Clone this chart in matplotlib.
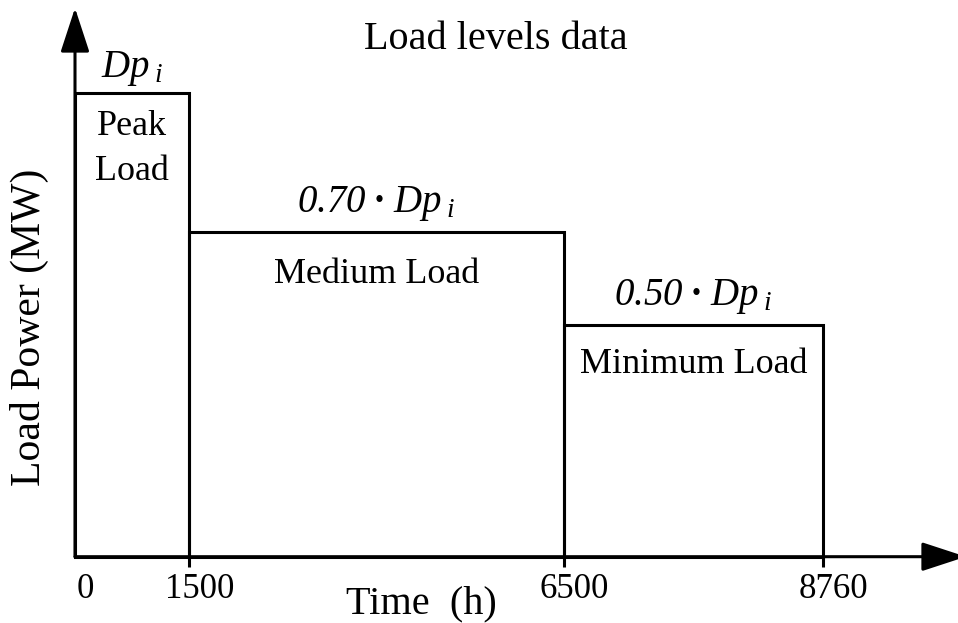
import numpy as np
import matplotlib
matplotlib.use("Agg")
import matplotlib.pyplot as plt
from matplotlib.transforms import ScaledTranslation

plt.rcParams["font.family"] = ["Liberation Serif", "DejaVu Serif"]
plt.rcParams["mathtext.fontset"] = "custom"
# formula labels are set entirely in italics
plt.rcParams["mathtext.rm"] = "Liberation Serif:italic"
plt.rcParams["mathtext.it"] = "Liberation Serif:italic"
plt.rcParams["mathtext.bf"] = "Liberation Serif:bold"

# Load duration data (hours of the year, relative load level)
hour_breaks = [0, 1500, 6500, 8760]
level_names = ["Peak\nLoad", "Medium Load", "Minimum Load"]
level_factors = [1.00, 0.70, 0.50]
level_labels = ["$Dp_{\\;i}$",
                "$0.70\\;\\mathbf{\u00b7}\\;Dp_{\\;i}$",
                "$0.50\\;\\mathbf{\u00b7}\\;Dp_{\\;i}$"]

starts = hour_breaks[:-1]
durations = list(np.diff(hour_breaks))

# Schematic (not-to-scale) horizontal spacing for the time axis
sketch_pos = [0, 114, 489, 748]


def fwd(h):
    return np.interp(h, hour_breaks, sketch_pos)


def inv(p):
    return np.interp(p, sketch_pos, hour_breaks)


W, H = 958, 623
fig = plt.figure(figsize=(W / 100, H / 100), dpi=100)
x0, y0 = 75, 556.7
x1, ytop = 823, 93
ax = fig.add_axes([x0 / W, (H - y0) / H, (x1 - x0) / W, (y0 - ytop) / H])

ax.set_xscale("function", functions=(fwd, inv))
ax.set_xlim(0, 8760)
ax.set_ylim(0, 1.0)

lw = 2.2
ax.bar(starts, level_factors, width=durations, align="edge", fill=False,
       edgecolor="black", linewidth=lw, clip_on=False)

for s in ax.spines.values():
    s.set_visible(False)

# Axis arrows
head = dict(arrowstyle="-|>,head_length=2.75,head_width=0.9", mutation_scale=10,
            lw=lw, color="black", shrinkA=0, shrinkB=0)
ax.annotate("", xy=(0, (y0 - 8) / (y0 - ytop)), xytext=(0, 0),
            xycoords="axes fraction", arrowprops=head, annotation_clip=False)
ax.annotate("", xy=((966 - x0) / (x1 - x0), 0), xytext=(0, 0),
            xycoords="axes fraction", arrowprops=head, annotation_clip=False)

# Ticks
ax.set_yticks([])
ax.set_xticks(hour_breaks)
ax.set_xticklabels([str(h) for h in hour_breaks])
ax.tick_params(axis="x", direction="out", length=7, width=lw, pad=4.5,
               labelsize=25)
ax.xaxis.get_major_ticks()[0].tick1line.set_visible(False)
shift = ScaledTranslation(7.5 / 72, 0, fig.dpi_scale_trans)
for lab in ax.get_xticklabels():
    lab.set_transform(lab.get_transform() + shift)

# Level annotations
mids = [(a + b) / 2 for a, b in zip(hour_breaks[:-1], hour_breaks[1:])]
above = [11.5, 14.5, 14]
below = [-62.6, -36.7, -35]
for m, f, lab, name, up, dn in zip(mids, level_factors, level_labels,
                                   level_names, above, below):
    ax.annotate(lab, xy=(m, f), xytext=(0, up), textcoords="offset points",
                ha="center", va="baseline", fontsize=28)
    ax.annotate(name, xy=(m, f), xytext=(0, dn), textcoords="offset points",
                ha="center", va="baseline", fontsize=26, linespacing=1.47)

fig.text(495.5 / W, 1 - 49 / H, "Load levels data", ha="center",
         va="baseline", fontsize=29)
fig.text(421 / W, 1 - 613 / H, "Time  (h)", ha="center", va="baseline",
         fontsize=29)
fig.text(29 / W, 1 - 327.5 / H, "Load Power (MW)", ha="center", va="center",
         rotation=90, fontsize=30)

fig.savefig("out.png", dpi=100)
